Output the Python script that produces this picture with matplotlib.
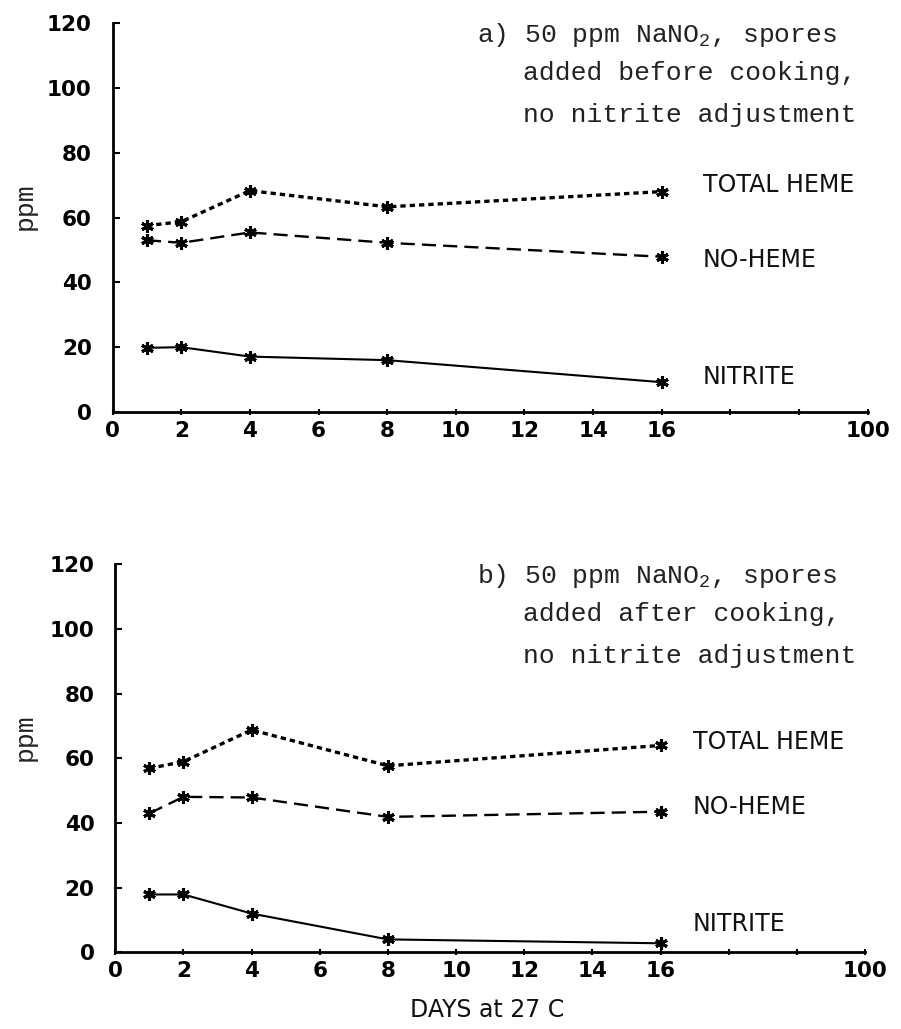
import matplotlib
matplotlib.use('Agg')
import matplotlib.pyplot as plt

'''
Nitrite / heme pigment levels during storage at 27 C
two panels: spores added before (a) and after (b) cooking
'''

# days of storage (the "100" tick is drawn at axis position 22)
days = [1, 2, 4, 8, 16]
xtick_pos = [0, 2, 4, 6, 8, 10, 12, 14, 16, 18, 20, 22]
xtick_labels = ['0', '2', '4', '6', '8', '10', '12', '14', '16', '', '', '100']
yticks = [0, 20, 40, 60, 80, 100, 120]

# panel a) spores added before cooking
a_total_heme = [57.5, 58.7, 68.3, 63.3, 68.0]
a_no_heme = [53.0, 52.2, 55.4, 52.2, 47.9]
a_nitrite = [19.8, 20.0, 17.1, 16.0, 9.2]

# panel b) spores added after cooking
b_total_heme = [56.9, 59.0, 68.8, 57.7, 64.0]
b_no_heme = [43.0, 48.1, 47.9, 41.9, 43.5]
b_nitrite = [17.9, 17.9, 12.0, 4.0, 2.8]

titles = [['a) 50 ppm NaNO$_2$, spores', 'added before cooking,', 'no nitrite adjustment'],
          ['b) 50 ppm NaNO$_2$, spores', 'added after cooking,', 'no nitrite adjustment']]
series_names = ['TOTAL HEME', 'NO-HEME', 'NITRITE']

plt.rcParams['mathtext.fontset'] = 'custom'
plt.rcParams['mathtext.rm'] = 'Liberation Mono'
plt.rcParams['mathtext.default'] = 'rm'

fig = plt.figure(figsize=(9.01, 10.29), dpi=100)
ax_a = fig.add_axes([0.125, 0.5996, 0.838, 0.378])
ax_b = fig.add_axes([0.128, 0.0745, 0.832, 0.377])

mono = 'Liberation Mono'
panels = [
    (ax_a, a_total_heme, a_no_heme, a_nitrite, [70, 46.8, 10.8], 17.2, titles[0], 0.80),
    (ax_b, b_total_heme, b_no_heme, b_nitrite, [65, 44.9, 8.8], 16.95, titles[1], 0.284),
]

for ax, th, nh, ni, label_y, label_x, title, ppm_y in panels:
    mk = dict(marker=(6, 2, 0), markersize=9, markeredgewidth=2.2, color='black')
    ax.plot(days, th, linestyle=(0, (1.6, 1.2)), linewidth=2.4, **mk)
    ax.plot(days, nh, linestyle=(0, (6, 3)), linewidth=1.7, **mk)
    ax.plot(days, ni, linestyle='-', linewidth=1.5, **mk)

    for name, ly in zip(series_names, label_y):
        ax.text(label_x, ly, name, fontsize=17, family='DejaVu Sans',
                va='center', ha='left', color='#111111')

    ax.set_xlim(0, 22)
    ax.set_ylim(0, 120)
    ax.set_xticks(xtick_pos)
    ax.set_xticklabels(xtick_labels)
    ax.set_yticks(yticks)
    ax.tick_params(axis='y', direction='in', length=5, width=1.5, pad=15,
                   labelsize=15.5)
    ax.tick_params(axis='x', direction='inout', length=5, width=1.5, pad=4,
                   labelsize=15.5)
    for lab in ax.get_xticklabels() + ax.get_yticklabels():
        lab.set_fontweight('bold')
    for s in ['top', 'right']:
        ax.spines[s].set_visible(False)
    for s in ['left', 'bottom']:
        ax.spines[s].set_linewidth(2)
    ax.set_facecolor('none')

    # condition description, typewriter style
    bb = ax.get_position()
    top_px = (1 - bb.y1) * 1029
    fig.text(477 / 901, 1 - (top_px + 12) / 1029, title[0], family=mono,
             fontsize=19, va='center', ha='left', color='#222222')
    fig.text(523 / 901, 1 - (top_px + 50) / 1029, title[1], family=mono,
             fontsize=19, va='center', ha='left', color='#222222')
    fig.text(523 / 901, 1 - (top_px + 92) / 1029, title[2], family=mono,
             fontsize=19, va='center', ha='left', color='#222222')

    fig.text(25 / 901, ppm_y, 'ppm', family=mono, fontsize=19, rotation=90,
             va='center', ha='center', color='#222222')

fig.text(487 / 901, 1 - 1010 / 1029, 'DAYS at 27 C', fontsize=17,
         family='DejaVu Sans', ha='center', va='center', color='#111111')

fig.savefig('out.png', dpi=100, facecolor='white')
